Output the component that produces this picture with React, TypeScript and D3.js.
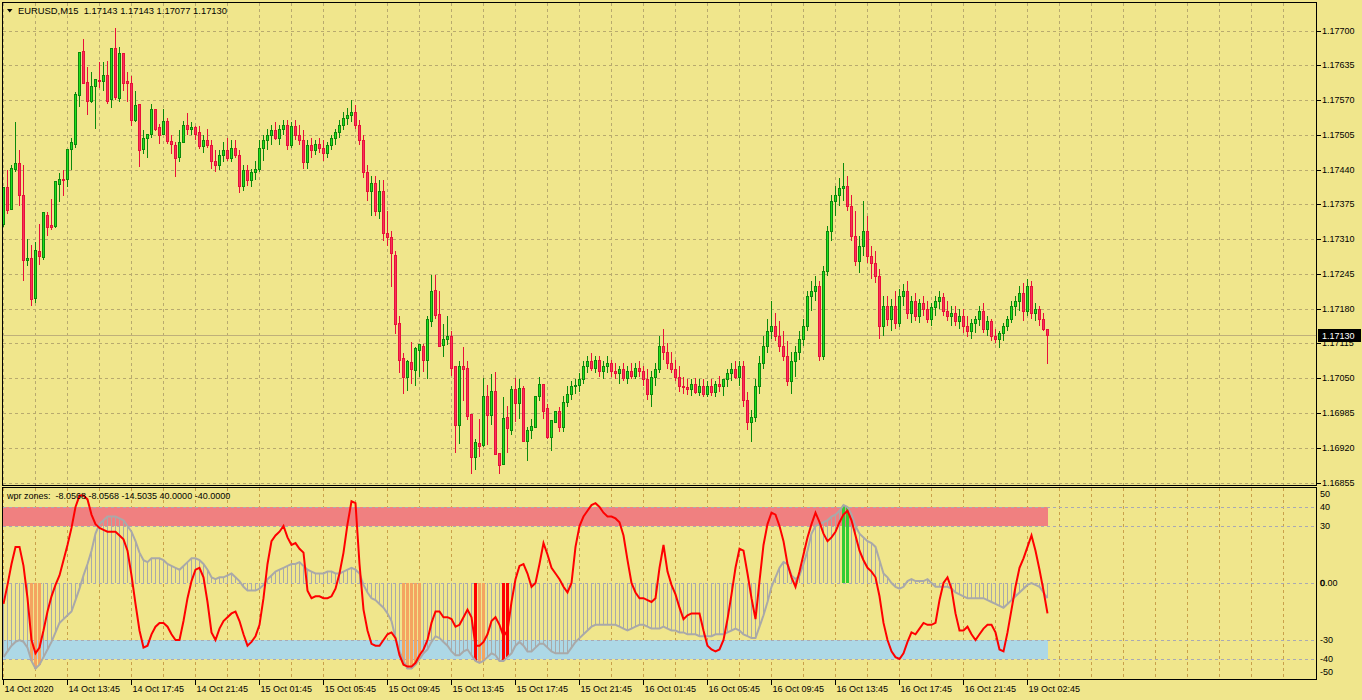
import React from "react";
import * as d3 from "d3";

const PRICE_TICKS = [1.16855, 1.1692, 1.16985, 1.1705, 1.17115, 1.1718, 1.17245, 1.1731, 1.17375, 1.1744, 1.17505, 1.1757, 1.17635, 1.177];
const TIME_LABELS = ["14 Oct 2020", "14 Oct 13:45", "14 Oct 17:45", "14 Oct 21:45", "15 Oct 01:45", "15 Oct 05:45", "15 Oct 09:45", "15 Oct 13:45", "15 Oct 17:45", "15 Oct 21:45", "16 Oct 01:45", "16 Oct 05:45", "16 Oct 09:45", "16 Oct 13:45", "16 Oct 17:45", "16 Oct 21:45", "19 Oct 02:45"];
const BID = 1.1713;
const HEADER = "EURUSD,M15  1.17143 1.17143 1.17077 1.17130";
const IND_HEADER = "wpr zones:  -8.0568 -8.0568 -14.5035 40.0000 -40.0000";
const WPR_TICKS = [50, 40, 30, 0, -30, -40, -50];
const ZONE_UP = [30, 40];
const ZONE_DN = [-40, -30];

// [open, high, low, close] in 1/100000 above 1.00000
const OHLC = [
[17339,17408,17333,17408],[17408,17439,17358,17365],[17367,17448,17365,17444],[17442,17529,17435,17452],
[17452,17476,17373,17393],[17393,17448,17232,17271],[17271,17311,17260,17275],[17275,17300,17185,17198],
[17200,17305,17191,17290],[17288,17339,17262,17279],[17277,17360,17271,17360],[17356,17360,17316,17333],
[17337,17386,17328,17333],[17335,17418,17331,17418],[17414,17433,17380,17422],[17422,17440,17390,17420],
[17422,17478,17408,17478],[17478,17499,17439,17491],[17489,17585,17480,17581],[17580,17660,17557,17660],
[17662,17685,17600,17602],[17604,17632,17542,17568],[17568,17623,17564,17596],[17596,17610,17517,17610],
[17608,17641,17593,17606],[17606,17641,17587,17617],[17617,17643,17563,17568],[17572,17668,17555,17668],
[17668,17705,17570,17576],[17574,17670,17566,17658],[17658,17658,17587,17602],[17606,17623,17566,17602],
[17602,17615,17521,17533],[17533,17587,17529,17561],[17563,17563,17446,17476],[17478,17514,17470,17499],
[17499,17506,17461,17506],[17506,17563,17499,17553],[17553,17553,17512,17517],[17519,17525,17489,17504],
[17506,17553,17506,17531],[17531,17536,17489,17493],[17493,17504,17469,17489],[17487,17491,17427,17461],
[17463,17514,17454,17491],[17491,17531,17491,17523],[17523,17546,17504,17516],[17516,17529,17504,17519],
[17519,17521,17495,17506],[17510,17521,17478,17484],[17484,17504,17472,17495],[17495,17517,17480,17486],
[17486,17495,17442,17457],[17457,17476,17435,17448],[17448,17476,17439,17467],[17467,17491,17454,17476],
[17476,17499,17457,17461],[17461,17495,17454,17480],[17480,17495,17461,17467],[17467,17476,17397,17410],
[17410,17448,17401,17439],[17439,17448,17410,17420],[17420,17442,17408,17435],[17435,17457,17420,17442],
[17442,17495,17435,17480],[17480,17504,17457,17495],[17495,17517,17476,17504],[17504,17523,17486,17514],
[17514,17529,17495,17499],[17499,17523,17486,17517],[17517,17533,17504,17523],[17523,17533,17476,17486],
[17486,17529,17480,17521],[17521,17533,17495,17504],[17504,17523,17486,17495],[17495,17514,17442,17454],
[17454,17495,17442,17486],[17486,17499,17461,17476],[17476,17495,17467,17489],[17489,17499,17472,17480],
[17480,17495,17457,17472],[17472,17491,17461,17486],[17486,17504,17476,17499],[17499,17517,17486,17510],
[17510,17533,17499,17523],[17523,17548,17514,17536],[17536,17555,17523,17542],[17542,17570,17529,17548],
[17548,17561,17517,17523],[17523,17533,17486,17495],[17495,17504,17424,17435],[17435,17448,17382,17401],
[17401,17429,17354,17416],[17416,17429,17354,17363],[17363,17420,17348,17401],[17401,17420,17307,17322],
[17322,17363,17298,17315],[17315,17326,17221,17285],[17281,17288,17132,17151],[17153,17166,17059,17085],
[17087,17097,17020,17053],[17053,17084,17027,17082],[17080,17117,17040,17067],[17065,17108,17035,17106],
[17102,17114,17053,17114],[17110,17114,17061,17084],[17084,17166,17048,17160],[17157,17243,17145,17213],
[17215,17243,17160,17168],[17170,17213,17110,17110],[17112,17151,17089,17123],[17123,17166,17112,17129],
[17129,17138,17055,17070],[17072,17072,16911,16963],[16963,17083,16927,17072],[17072,17108,17008,17067],
[17070,17082,16971,16980],[16984,16984,16871,16903],[16903,16937,16879,16931],[16929,16974,16903,16924],
[16926,17050,16922,17016],[17016,17038,16926,16982],[16982,17057,16963,17027],[17027,17061,16907,16909],
[16911,16911,16871,16888],[16890,17014,16888,16976],[16978,16999,16911,16956],[16954,17036,16944,17029],
[17029,17051,16969,17004],[17003,17048,16973,17031],[17031,17036,16931,16933],[16933,16959,16896,16954],
[16954,16973,16937,16961],[16959,17016,16958,17016],[17016,17053,17008,17040],[17040,17040,16974,16989],
[16995,17001,16937,16941],[16941,16971,16914,16971],[16969,16988,16967,16988],[16988,16997,16950,16958],
[16958,17016,16950,17006],[17006,17035,16997,17021],[17021,17044,17010,17035],[17035,17048,17021,17038],
[17038,17059,17025,17048],[17048,17082,17040,17072],[17072,17091,17059,17082],[17082,17097,17063,17070],
[17070,17091,17059,17085],[17085,17091,17053,17063],[17063,17082,17048,17072],[17072,17091,17059,17078],
[17078,17085,17053,17063],[17063,17078,17048,17059],[17059,17072,17040,17067],[17067,17078,17044,17051],
[17051,17072,17040,17063],[17063,17078,17048,17055],[17055,17078,17048,17070],[17070,17082,17053,17063],
[17063,17072,17035,17048],[17048,17067,17010,17021],[17021,17063,16997,17053],[17053,17078,17035,17067],
[17067,17129,17059,17110],[17110,17142,17085,17100],[17100,17115,17067,17078],[17078,17100,17059,17067],
[17067,17085,17044,17053],[17053,17072,17025,17036],[17036,17053,17021,17033],[17033,17048,17018,17029],
[17029,17048,17016,17040],[17040,17051,17021,17025],[17025,17048,17016,17036],[17036,17048,17014,17021],
[17021,17044,17014,17035],[17035,17048,17016,17025],[17025,17044,17014,17040],[17040,17055,17025,17035],
[17035,17048,17016,17048],[17048,17067,17033,17059],[17059,17078,17044,17067],[17067,17082,17048,17053],
[17053,17082,17035,17072],[17072,17082,16997,17010],[17010,17025,16954,16969],[16969,16991,16931,16978],
[16978,17048,16969,17035],[17035,17091,17021,17078],[17078,17129,17067,17110],[17110,17160,17097,17138],
[17138,17194,17123,17147],[17147,17172,17119,17129],[17129,17157,17100,17110],[17110,17138,17082,17091],
[17091,17119,17035,17044],[17044,17100,17021,17082],[17082,17110,17053,17100],[17100,17138,17085,17123],
[17123,17160,17110,17147],[17147,17213,17138,17204],[17204,17232,17175,17213],[17213,17241,17194,17222],
[17222,17232,17082,17091],[17091,17260,17085,17251],[17251,17335,17241,17326],[17326,17392,17307,17382],
[17382,17410,17354,17392],[17392,17424,17373,17405],[17405,17452,17382,17410],[17410,17429,17363,17373],
[17373,17392,17307,17316],[17316,17363,17260,17269],[17269,17316,17247,17298],[17298,17382,17279,17326],
[17326,17354,17266,17279],[17279,17298,17236,17266],[17266,17288,17228,17241],[17241,17254,17123,17147],
[17147,17204,17129,17185],[17185,17204,17147,17160],[17160,17198,17138,17185],[17185,17213,17142,17153],
[17153,17217,17145,17204],[17204,17226,17185,17213],[17213,17232,17160,17172],[17172,17204,17153,17194],
[17194,17209,17157,17166],[17166,17198,17153,17191],[17191,17204,17166,17179],[17179,17194,17153,17160],
[17160,17191,17147,17183],[17183,17204,17166,17194],[17194,17213,17179,17202],[17202,17209,17166,17175],
[17175,17194,17157,17166],[17166,17185,17147,17172],[17172,17185,17147,17157],[17157,17179,17142,17166],
[17166,17179,17134,17147],[17147,17166,17127,17138],[17138,17160,17123,17153],[17153,17166,17134,17160],
[17160,17185,17147,17175],[17175,17191,17134,17142],[17142,17166,17129,17157],[17157,17160,17119,17129],
[17129,17142,17115,17123],[17123,17138,17106,17134],[17134,17153,17119,17147],[17147,17166,17138,17160],
[17160,17194,17153,17185],[17185,17204,17166,17194],[17194,17222,17175,17209],[17209,17228,17157,17175],
[17175,17236,17166,17222],[17222,17232,17160,17172],[17172,17191,17157,17179],[17179,17185,17147,17160],
[17160,17172,17138,17142],[17143,17143,17077,17130]
];

const WPR = [
-11,-1,10,19,19,9,-8,-30,-37,-34,-25,-15,-7,-1,4,12,
20,29,40,46,46,44,36,31,29,28,27,27,27,25,23,17,
4,-11,-25,-34,-33,-27,-23,-21,-21,-23,-27,-30,-30,-20,-8,1,
7,8,3,-10,-26,-30,-24,-20,-18,-16,-15,-20,-27,-33,-31,-28,
-22,-8,10,22,25,27,30,24,20,21,18,16,-4,-8,-7,-7,
-8,-8,-7,-3,5,16,31,43,42,10,-14,-25,-32,-33,-33,-30,
-27,-26,-29,-38,-43,-44,-44,-42,-38,-35,-30,-21,-15,-15,-18,-18,
-19,-23,-22,-18,-14,-18,-33,-33,-31,-27,-20,-18,-22,-28,-25,-10,
2,9,10,5,-2,0,10,21,15,8,5,2,-2,-5,0,19,
30,35,38,41,42,40,37,35,35,34,32,25,12,0,-5,-8,
-8,-9,-10,-8,8,20,6,-1,-6,-13,-19,-17,-16,-16,-16,-25,
-33,-35,-36,-35,-30,-19,-6,8,18,17,5,-8,-19,1,20,31,
37,36,30,22,10,3,-2,6,15,24,31,37,32,26,22,24,
27,32,36,38,33,25,17,12,8,6,3,-7,-21,-30,-36,-39,
-40,-37,-31,-26,-27,-24,-21,-22,-22,-21,-9,0,3,-3,-16,-25,
-25,-23,-27,-30,-27,-24,-22,-22,-26,-35,-36,-26,-14,-2,8,13,
19,25,17,7,-4,-16
];

const SIGNAL = [
-39,-36,-33,-31,-30,-31,-34,-41,-45,-43,-39,-35,-31,-26,-21,-19,
-17,-15,-9,-3,4,10,17,26,31,33,35,35,35,34,33,30,
27,22,16,12,11,13,13,13,12,10,9,8,7,9,11,13,
13,12,10,7,3,2,3,3,4,5,3,1,-2,-4,-4,-4,
-3,-1,2,4,6,7,8,9,10,10,11,9,7,6,5,5,
5,6,6,5,5,6,7,8,7,5,-1,-5,-8,-9,-11,-13,
-16,-20,-29,-36,-41,-45,-45,-43,-40,-37,-35,-31,-28,-29,-31,-33,
-36,-38,-38,-36,-35,-38,-41,-42,-41,-39,-37,-38,-41,-41,-39,-37,
-33,-31,-33,-36,-36,-34,-32,-32,-34,-36,-37,-37,-37,-37,-34,-31,
-29,-27,-25,-23,-22,-22,-22,-22,-22,-22,-23,-24,-25,-24,-23,-22,
-22,-23,-24,-24,-24,-23,-24,-25,-25,-26,-26,-27,-27,-27,-28,-28,
-28,-28,-27,-27,-27,-26,-25,-24,-25,-27,-28,-29,-29,-23,-17,-10,
-2,3,8,11,10,4,2,4,10,17,26,30,31,32,33,35,
36,38,41,40,36,30,26,24,22,21,19,12,5,3,0,-2,
-3,-2,1,2,1,1,1,2,0,-2,-2,-2,-2,-3,-5,-6,
-7,-8,-8,-8,-8,-8,-9,-10,-11,-12,-13,-11,-9,-7,-5,-3,
-1,0,-1,-2,-5,-8
];

const ORANGE_BARS = [7, 8, 9, 100, 101, 102, 103, 104, 119, 120];
const RED_BARS = [118, 125, 126];
const GREEN_BARS = [210, 211];

const FONT = "'Liberation Sans', Arial, sans-serif";
const BG = "#F0E68C";
const GRID = "#b8aa6e";
const IGRID = "#c9a04a";
const LEVEL = "#a9a9b4";
const UP_EDGE = "#0b8a0b";
const UP_FILL = "#1fe01f";
const DN_EDGE = "#e8103a";
const DN_FILL = "#f5335c";

export default function App() {
  const n = OHLC.length;
  const L = 2.5, R = 1316.5, MT = 2.5, MB = 485.5, IT = 487.5, IB = 679.5;
  const x = d3.scaleLinear().domain([0, n - 1]).range([3.5, 3.5 + 4 * (n - 1)]);
  const y = d3.scaleLinear().domain([1.16855, 1.177]).range([482.5, 30.7]);
  const yi = d3.scaleLinear().domain([-50, 50]).range([678, 488]);
  const px = (v: number) => 1 + v / 1e5;
  const line = d3.line<number>().x((_, i) => x(i)).y((d) => yi(d));

  const gridIdx = d3.range(0, 330, 8).filter((i) => x(i) < R - 1);

  return (
    <svg width={1362} height={700} style={{ position: "absolute", left: 0, top: 0, background: BG }} fontFamily={FONT}>
      <rect x={0} y={0} width={1362} height={700} fill={BG} />
      {/* main grid */}
      <g shapeRendering="crispEdges">
        {PRICE_TICKS.map((p) => (
          <line key={"h" + p} x1={L} x2={R} y1={Math.round(y(p)) + 0.5} y2={Math.round(y(p)) + 0.5} stroke={GRID} strokeDasharray="3,3" />
        ))}
        {gridIdx.map((i) => (
          <line key={"v" + i} x1={x(i)} x2={x(i)} y1={MT} y2={MB} stroke={GRID} strokeDasharray="3,3" />
        ))}
        <line x1={L} x2={R} y1={Math.round(y(BID)) + 0.5} y2={Math.round(y(BID)) + 0.5} stroke="#bfb07a" />
      </g>
      {/* candles */}
      <g shapeRendering="crispEdges">
        {OHLC.map((d, i) => {
          const [o, h, l, c] = d.map(px);
          const up = c >= o;
          const cx = x(i);
          const top = Math.round(y(Math.max(o, c)));
          const bot = Math.round(y(Math.min(o, c)));
          const hh = Math.max(1, bot - top + 1);
          return (
            <g key={i}>
              <line x1={cx} x2={cx} y1={y(h)} y2={y(l)} stroke={up ? UP_EDGE : DN_EDGE} />
              <rect x={cx - 1.5} y={top} width={3} height={hh} fill={up ? UP_EDGE : DN_EDGE} />
              {hh > 2 && <rect x={cx - 0.5} y={top + 1} width={1} height={hh - 2} fill={up ? UP_FILL : DN_FILL} />}
            </g>
          );
        })}
      </g>
      {/* indicator grid */}
      <g shapeRendering="crispEdges">
        {gridIdx.map((i) => (
          <line key={"iv" + i} x1={x(i)} x2={x(i)} y1={IT} y2={IB} stroke={IGRID} strokeDasharray="3,3" />
        ))}
        <rect x={L} y={yi(ZONE_UP[1])} width={x(n - 1) - L} height={yi(ZONE_UP[0]) - yi(ZONE_UP[1])} fill="#F08080" />
        <rect x={L} y={yi(ZONE_DN[1])} width={x(n - 1) - L} height={yi(ZONE_DN[0]) - yi(ZONE_DN[1])} fill="#ADD8E6" />
        {[40, 30, 0, -30, -40].map((v) => (
          <line key={"lv" + v} x1={L} x2={R} y1={Math.round(yi(v)) + 0.5} y2={Math.round(yi(v)) + 0.5} stroke={LEVEL} strokeDasharray="3,3" />
        ))}
        {SIGNAL.map((v, i) => (
          <line key={"hist" + i} x1={x(i)} x2={x(i)} y1={yi(0)} y2={yi(v)} stroke="#A9A9A9" />
        ))}
        {ORANGE_BARS.map((i) => (
          <rect key={"ob" + i} x={x(i) - 1.5} y={Math.min(yi(0), yi(SIGNAL[i]))} width={3} height={Math.abs(yi(SIGNAL[i]) - yi(0))} fill="#F4A460" />
        ))}
        {RED_BARS.map((i) => (
          <rect key={"rb" + i} x={x(i) - 1.5} y={Math.min(yi(0), yi(SIGNAL[i]))} width={3} height={Math.abs(yi(SIGNAL[i]) - yi(0))} fill="#FF0000" />
        ))}
        {GREEN_BARS.map((i) => (
          <rect key={"gb" + i} x={x(i) - 1.5} y={Math.min(yi(0), yi(SIGNAL[i]))} width={3} height={Math.abs(yi(SIGNAL[i]) - yi(0))} fill="#32CD32" />
        ))}
      </g>
      <path d={line(SIGNAL) || ""} fill="none" stroke="#A9A9A9" strokeWidth={2} />
      <path d={line(WPR) || ""} fill="none" stroke="#FF0000" strokeWidth={2} />
      {/* frames */}
      <g shapeRendering="crispEdges" fill="none" stroke="#000">
        <rect x={L} y={MT} width={R - L} height={MB - MT} />
        <rect x={L} y={IT} width={R - L} height={IB - IT} />
        {PRICE_TICKS.map((p) => (
          <line key={"t" + p} x1={R} x2={R + 4} y1={Math.round(y(p)) + 0.5} y2={Math.round(y(p)) + 0.5} />
        ))}
        {TIME_LABELS.map((t, k) => (
          <line key={"xt" + k} x1={x(16 * k)} x2={x(16 * k)} y1={IB} y2={IB + 5} />
        ))}
      </g>
      {/* texts */}
      <g fontSize={9} fill="#000">
        {PRICE_TICKS.map((p) => (
          <text key={"pl" + p} x={1322} y={y(p)} dominantBaseline="central">{p.toFixed(5)}</text>
        ))}
        <rect x={1318} y={Math.round(y(BID)) - 6} width={43} height={13} fill="#000" />
        <text x={1322} y={y(BID) + 0.5} dominantBaseline="central" fill="#fff">{BID.toFixed(5)}</text>
        {TIME_LABELS.map((t, k) => (
          <text key={"tl" + k} x={x(16 * k) + 1} y={692}>{t}</text>
        ))}
        {WPR_TICKS.map((v) => {
          const yy = v === 50 ? yi(v) + 6 : v === -50 ? yi(v) - 6 : yi(v);
          if (v === 0) {
            return (
              <text key={"wl" + v} x={1320} y={yy} dominantBaseline="central">
                <tspan stroke="#000" strokeWidth={0.45}>0</tspan>.00
              </text>
            );
          }
          return (
            <text key={"wl" + v} x={1320} y={yy} dominantBaseline="central">{String(v)}</text>
          );
        })}
        <polygon points="7,9 12.5,9 9.75,12.5" fill="#000" />
        <text x={18} y={10} dominantBaseline="central" fontSize={9.4} style={{ whiteSpace: "pre" }}>{HEADER}</text>
        <text x={7} y={496} dominantBaseline="central" style={{ whiteSpace: "pre" }}>{IND_HEADER}</text>
      </g>
    </svg>
  );
}
